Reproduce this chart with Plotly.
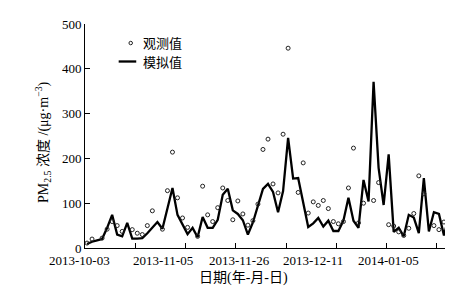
import plotly.graph_objects as go

# sample index (equally spaced samples along the time axis)
model_idx = list(range(73))
model_vals = [9, 14, 17, 20, 45, 74, 30, 26, 56, 21,
              21, 22, 33, 45, 58, 43, 88, 134, 74, 52,
              31, 45, 24, 69, 45, 45, 63, 119, 132, 84,
              76, 62, 30, 57, 97, 132, 143, 125, 80, 127,
              246, 155, 156, 100, 47, 55, 67, 48, 61, 38,
              38, 61, 112, 61, 45, 152, 104, 371, 179, 96,
              209, 36, 45, 26, 74, 68, 33, 156, 37, 80,
              76, 28, 72]

obs_idx = [0, 1, 3, 4, 5, 6, 7, 9, 10, 11, 12, 13, 15, 16, 17, 18, 19, 20, 22,
           23, 24, 25, 26, 27, 28, 29, 30, 31, 32, 33, 34, 35, 36, 37, 38, 39,
           40, 42, 43, 44, 45, 46, 47, 48, 49, 50, 51, 52, 53, 54, 55, 57, 58,
           60, 61, 62, 63, 64, 65, 66, 67, 69, 70, 71, 72]
obs_vals = [11, 20, 22, 42, 59, 50, 37, 41, 33, 30, 50, 83, 42, 128, 214, 112, 67, 46, 26,
            138, 74, 59, 90, 134, 106, 63, 105, 76, 51, 61, 98, 220, 243, 143, 123, 254,
            446, 124, 190, 78, 103, 95, 106, 88, 59, 54, 59, 134, 223, 56, 100, 106, 146,
            52, 49, 36, 28, 44, 77, 161, 121, 50, 41, 58, 67]

x_tick_marks = [-0.4, 9.6, 19.6, 29.6, 39.6, 49.6, 59.6, 69.6]
# label centres in paper fraction of the x axis
x_label_pos = [-0.0137, 0.2131, 0.4208, 0.623, 0.8306]
x_labels = ["2013-10-03", "2013-11-05", "2013-11-26", "2013-12-11", "2014-01-05"]
y_ticks = [0, 100, 200, 300, 400, 500]

SERIF = "Liberation Serif"
SERIF_CJK = "Liberation Serif, Noto Sans CJK SC"

fig = go.Figure()
fig.add_trace(go.Scatter(
    x=model_idx, y=model_vals, mode="lines",
    line=dict(color="black", width=2.3), name="模拟值", showlegend=False))
fig.add_trace(go.Scatter(
    x=obs_idx, y=obs_vals, mode="markers",
    marker=dict(symbol="circle-open", size=4, color="#222222", line=dict(width=1, color="#222222")),
    name="观测值", showlegend=False))

annotations = []
for xv, t in zip(x_label_pos, x_labels):
    annotations.append(dict(x=xv, y=-0.0536, xref="paper", yref="paper", text=t, showarrow=False,
                            xanchor="center", yanchor="middle",
                            font=dict(family=SERIF, size=13, color="black")))
annotations.append(dict(x=0.4317, y=-0.134, xref="paper", yref="paper", text="日期(年-月-日)",
                        showarrow=False, xanchor="center", yanchor="middle",
                        font=dict(family=SERIF_CJK, size=14, color="black")))
annotations.append(dict(x=-0.115, y=0.473, xref="paper", yref="paper",
                        text="PM<sub>2.5</sub> 浓度 /(μg·m<sup>−3</sup>)",
                        textangle=-90, showarrow=False, xanchor="center", yanchor="middle",
                        font=dict(family=SERIF_CJK, size=14, color="black")))
# manual legend
annotations.append(dict(x=0.154, y=0.915, xref="paper", yref="paper", text="观测值",
                        showarrow=False, xanchor="left", yanchor="middle",
                        font=dict(family=SERIF_CJK, size=13, color="black")))
annotations.append(dict(x=0.154, y=0.826, xref="paper", yref="paper", text="模拟值",
                        showarrow=False, xanchor="left", yanchor="middle",
                        font=dict(family=SERIF_CJK, size=13, color="black")))

shapes = [
    dict(type="circle", xref="paper", yref="paper",
         x0=0.1249 - 0.0048, x1=0.1249 + 0.0048, y0=0.915 - 0.0078, y1=0.915 + 0.0078,
         line=dict(color="#222222", width=1)),
    dict(type="line", xref="paper", yref="paper", x0=0.092, x1=0.140, y0=0.8326, y1=0.8326,
         line=dict(color="black", width=2.3)),
]

fig.update_layout(
    width=453, height=287,
    margin=dict(l=77, r=10, t=16, b=47),
    paper_bgcolor="white", plot_bgcolor="white",
    annotations=annotations, shapes=shapes,
    xaxis=dict(range=[-0.4, 72.4], tickmode="array", tickvals=x_tick_marks,
               showticklabels=False, ticks="inside", ticklen=5, tickwidth=1, tickcolor="black",
               showline=True, linecolor="black", linewidth=1, showgrid=False, zeroline=False),
    yaxis=dict(range=[0, 500], tickmode="array", tickvals=y_ticks,
               ticks="inside", ticklen=5, tickwidth=1, tickcolor="black",
               showline=True, linecolor="black", linewidth=1, showgrid=False, zeroline=False,
               tickfont=dict(family=SERIF, size=13, color="black")),
)

fig.write_html("out.html")
